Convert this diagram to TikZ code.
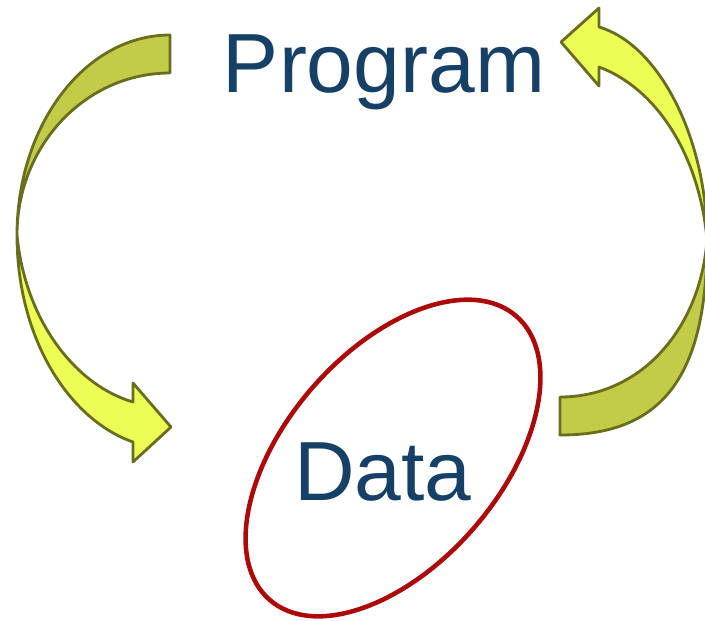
\documentclass[tikz,border=0pt]{standalone}
\usepackage{fontspec}
\setmainfont{Liberation Sans}
\usetikzlibrary{positioning}

\definecolor{textblue}{RGB}{22,64,102}
\definecolor{backband}{RGB}{194,204,72}
\definecolor{frontband}{RGB}{236,254,86}
\definecolor{bandline}{RGB}{104,110,30}
\definecolor{ringred}{RGB}{172,10,10}

\tikzset{
  band/.style={draw=bandline, line width=1.6pt, line join=round},
  bigword/.style={text=textblue, anchor=base, inner sep=0pt,
    font=\fontsize{47.8pt}{50pt}\selectfont}
}

\begin{document}
\begin{tikzpicture}[x=0.02cm, y=-0.02cm]
\useasboundingbox (0,0) rectangle (705,620);

% left arrow, Program -> Data
\filldraw[band, fill=backband] (170,35) .. controls (85,35) and (17,125) .. (17,235)
  .. controls (17,146) and (85,73) .. (170,73) -- cycle;
\filldraw[band, fill=frontband] (17,235) .. controls (17,340) and (70,420) .. (133,442)
  -- (133,462) -- (171,427) -- (133,383) -- (133,402)
  .. controls (75,385) and (25,320) .. (17,235) -- cycle;

% right arrow, Data -> Program
\filldraw[band, fill=backband] (560,435) .. controls (660,435) and (707,380) .. (707,240)
  .. controls (700,330) and (640,397) .. (560,397) -- cycle;
\filldraw[band, fill=frontband] (707,240) .. controls (707,140) and (660,45) .. (599,27)
  -- (599,8) -- (561,42) -- (599,86) -- (599,67)
  .. controls (660,90) and (700,160) .. (707,240) -- cycle;

% ring round the data
\draw[ringred, line width=2.6pt, rotate around={49:(393,458)}]
  (393,458) ellipse [x radius=3.76cm, y radius=2.14cm];

\node[bigword] (prog) at (384,92) {Program};
\node[bigword] (data) at (383,500) {Data};

\end{tikzpicture}
\end{document}
